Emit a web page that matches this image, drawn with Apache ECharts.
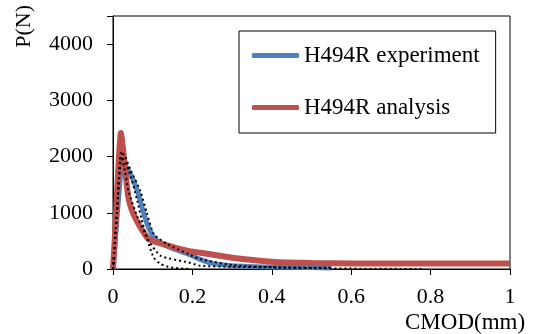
<!DOCTYPE html>
<html><head><meta charset="utf-8">
<script src="https://cdn.jsdelivr.net/npm/echarts@6/dist/echarts.min.js"></script>
<style>html,body{margin:0;padding:0;background:#fff}#c{width:534px;height:334px}</style>
</head><body><div id="c"></div>
<script>
var xTicks = [0, 0.2, 0.4, 0.6, 0.8, 1];
var yTicks = [0, 1000, 2000, 3000, 4000];
var expX = [0, 0.01, 0.02, 0.025, 0.035, 0.05, 0.064, 0.075, 0.086, 0.103, 0.12, 0.145, 0.19, 0.22, 0.25, 0.3, 0.4, 0.5, 0.55];
var expY = [0, 900, 1750, 1880, 1800, 1600, 1330, 1050, 800, 560, 460, 380, 265, 170, 100, 60, 35, 25, 18];
var anaX = [0, 0.005, 0.012, 0.02, 0.025, 0.03, 0.038, 0.045, 0.06, 0.086, 0.1, 0.128, 0.16, 0.19, 0.22, 0.3, 0.4, 0.5, 0.6, 0.8, 1];
var anaY = [0, 600, 1600, 2420, 2150, 1830, 1300, 1100, 855, 560, 500, 440, 370, 320, 290, 200, 130, 105, 100, 100, 100];
var dotAX = [0, 0.01, 0.02, 0.03, 0.039, 0.06, 0.081, 0.1025, 0.12, 0.145, 0.19];
var dotAY = [0, 1000, 2000, 1750, 1386, 950, 620, 205, 90, 28, 0];
var dotBX = [0, 0.01, 0.022, 0.04, 0.06, 0.075, 0.09, 0.12, 0.19, 0.22, 0.3, 0.4, 0.55];
var dotBY = [0, 1000, 2000, 1750, 1250, 800, 500, 235, 117, 58, 40, 30, 20];
var dotCX = [0, 0.01, 0.021, 0.03, 0.045, 0.069, 0.085, 0.103, 0.137, 0.19, 0.22, 0.3, 0.4, 0.55, 0.78];
var dotCY = [0, 1000, 2090, 2000, 1750, 1386, 1000, 620, 440, 265, 177, 70, 30, 10, 0];

function pairs(xs, ys) { return xs.map(function (x, i) { return [x, ys[i]]; }); }
var FONT = 'Liberation Serif';
var chart = echarts.init(document.getElementById('c'));
var dotStyle = { color: '#000', width: 2, type: [2, 3] };
chart.setOption({
  animation: false,
  textStyle: { fontFamily: FONT },
  grid: { left: 113, right: 24, top: 16, bottom: 65, show: true, borderColor: '#000', borderWidth: 1 },
  xAxis: {
    type: 'value', min: xTicks[0], max: xTicks[xTicks.length - 1], interval: 0.2,
    axisLine: { lineStyle: { color: '#000', width: 1 } },
    axisTick: { show: true, length: 6, lineStyle: { color: '#000' } },
    axisLabel: { color: '#000', fontSize: 22, fontFamily: FONT, margin: 17 },
    splitLine: { show: false }
  },
  yAxis: {
    type: 'value', min: yTicks[0], max: 4500, interval: 1000,
    axisLine: { show: true, lineStyle: { color: '#000', width: 1 } },
    axisTick: { show: true, length: 6, lineStyle: { color: '#000' } },
    axisLabel: { color: '#000', fontSize: 22, fontFamily: FONT, margin: 20,
      formatter: function (v) { return yTicks.indexOf(v) >= 0 ? String(v) : ''; } },
    splitLine: { show: false }
  },
  legend: {
    data: ['H494R experiment', 'H494R analysis'],
    orient: 'vertical', left: 239, top: 31,
    borderColor: '#000', borderWidth: 1, borderRadius: 0,
    padding: [13, 16, 14, 13], itemGap: 29, itemWidth: 47, itemHeight: 5,
    icon: 'roundRect',
    textStyle: { color: '#000', fontSize: 23, fontFamily: FONT }
  },
  graphic: [
    { type: 'text', left: 13, top: 5, rotation: Math.PI / 2,
      style: { text: 'P(N)', font: '22px "Liberation Serif"', fill: '#000' } },
    { type: 'text', left: 405, top: 311,
      style: { text: 'CMOD(mm)', font: '23px "Liberation Serif"', fill: '#000' } }
  ],
  series: [
    { name: 'H494R experiment', type: 'line', data: pairs(expX, expY), showSymbol: false, smooth: 0.2,
      lineStyle: { color: '#4F81BD', width: 5 }, itemStyle: { color: '#4F81BD' }, z: 2 },
    { name: 'H494R analysis', type: 'line', data: pairs(anaX, anaY), showSymbol: false, smooth: 0.2,
      lineStyle: { color: '#C0504D', width: 6 }, itemStyle: { color: '#C0504D' }, z: 3 },
    { name: 'dotA', type: 'line', data: pairs(dotAX, dotAY), showSymbol: false, smooth: 0.2, lineStyle: dotStyle, z: 4 },
    { name: 'dotB', type: 'line', data: pairs(dotBX, dotBY), showSymbol: false, smooth: 0.2, lineStyle: dotStyle, z: 4 },
    { name: 'dotC', type: 'line', data: pairs(dotCX, dotCY), showSymbol: false, smooth: 0.2, lineStyle: dotStyle, z: 4 }
  ]
});
</script></body></html>
